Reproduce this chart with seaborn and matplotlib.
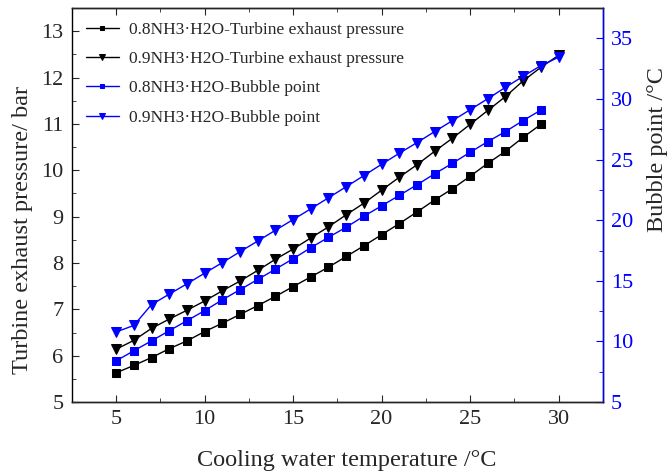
import matplotlib
matplotlib.use("Agg")
import matplotlib.pyplot as plt
import seaborn as sns
from matplotlib.ticker import MultipleLocator

sns.set_style("ticks")
plt.rcParams["font.family"] = ["Liberation Serif", "DejaVu Serif"]

# Data
temp_08 = list(range(5, 30))
temp_09 = list(range(5, 31))

pressure_08 = [5.63, 5.79, 5.96, 6.15, 6.32, 6.52, 6.70, 6.89, 7.08, 7.28,
               7.49, 7.70, 7.91, 8.14, 8.37, 8.61, 8.85, 9.10, 9.36, 9.60,
               9.87, 10.15, 10.41, 10.71, 10.99]
pressure_09 = [6.14, 6.33, 6.59, 6.79, 6.98, 7.18, 7.40, 7.61, 7.84, 8.08,
               8.30, 8.54, 8.78, 9.04, 9.29, 9.57, 9.85, 10.12, 10.41, 10.69,
               10.99, 11.29, 11.59, 11.93, 12.22, 12.48]
bubble_08 = [8.40, 9.23, 10.05, 10.88, 11.71, 12.54, 13.43, 14.27, 15.11, 15.96,
             16.82, 17.73, 18.59, 19.42, 20.33, 21.18, 22.05, 22.92, 23.83, 24.69,
             25.60, 26.48, 27.31, 28.22, 29.08]
bubble_09 = [10.78, 11.32, 13.04, 13.90, 14.75, 15.63, 16.50, 17.40, 18.28, 19.17,
             20.05, 20.94, 21.85, 22.76, 23.68, 24.61, 25.52, 26.40, 27.31, 28.21,
             29.11, 30.02, 30.96, 31.87, 32.75, 33.44]

labels = ["0.8NH3·H2O-Turbine exhaust pressure",
          "0.9NH3·H2O-Turbine exhaust pressure",
          "0.8NH3·H2O-Bubble point",
          "0.9NH3·H2O-Bubble point"]

fig, ax = plt.subplots(figsize=(6.72, 4.73), dpi=100)
fig.subplots_adjust(left=0.107, right=0.897, top=0.983, bottom=0.150)
ax2 = ax.twinx()

sq_size, tri_size = 5.2, 6.8
sns.lineplot(x=temp_08, y=pressure_08, ax=ax, color="black", marker="s",
             markersize=sq_size, markeredgecolor="black", linewidth=1, label=labels[0], legend=False)
sns.lineplot(x=temp_09, y=pressure_09, ax=ax, color="black", marker="v",
             markersize=tri_size, markeredgecolor="black", linewidth=1, label=labels[1], legend=False)
sns.lineplot(x=temp_08, y=bubble_08, ax=ax2, color="blue", marker="s",
             markersize=sq_size, markeredgecolor="blue", linewidth=1, label=labels[2], legend=False)
sns.lineplot(x=temp_09, y=bubble_09, ax=ax2, color="blue", marker="v",
             markersize=tri_size, markeredgecolor="blue", linewidth=1, label=labels[3], legend=False)

ax.set_xlim(2.5, 32.5)
ax.set_ylim(5, 13.5)
ax2.set_ylim(5, 37.5)

ax.xaxis.set_major_locator(MultipleLocator(5))
ax.xaxis.set_minor_locator(MultipleLocator(2.5))
ax.yaxis.set_major_locator(MultipleLocator(1))
ax.yaxis.set_minor_locator(MultipleLocator(0.5))
ax2.yaxis.set_major_locator(MultipleLocator(5))
ax2.yaxis.set_minor_locator(MultipleLocator(2.5))

ax.tick_params(axis="x", which="both", direction="in", top=True, labelsize=16, pad=6)
ax.tick_params(axis="y", which="both", direction="in", labelsize=16, pad=6)
ax.tick_params(which="major", length=5)
ax.tick_params(which="minor", length=3)
ax2.tick_params(axis="y", which="both", direction="in", colors="blue", labelsize=16, pad=6)
ax2.tick_params(which="major", length=5)
ax2.tick_params(which="minor", length=3)

for sp in ax.spines.values():
    sp.set_color("black")
    sp.set_linewidth(1)
for sp in ax2.spines.values():
    sp.set_linewidth(1)
ax2.spines["right"].set_color("blue")
ax2.spines["left"].set_visible(False)

ax.set_xlabel("Cooling water temperature /°C", fontsize=17.5)
ax.set_ylabel("Turbine exhaust pressure/ bar", fontsize=17.5)
ax2.set_ylabel("Bubble point /°C", fontsize=17.5)
ax.xaxis.set_label_coords(0.518, -0.122)
ax.yaxis.set_label_coords(-0.074, 0.437)
ax2.yaxis.set_label_coords(1.083, 0.64)

h1, l1 = ax.get_legend_handles_labels()
h2, l2 = ax2.get_legend_handles_labels()
ax2.legend(h1 + h2, l1 + l2, loc="upper left", frameon=False, fontsize=12.5,
           handlelength=1.9, handletextpad=0.6, markerscale=0.65,
           borderaxespad=0.5, borderpad=0.3, labelspacing=0.75)

fig.savefig("out.png", dpi=100)
